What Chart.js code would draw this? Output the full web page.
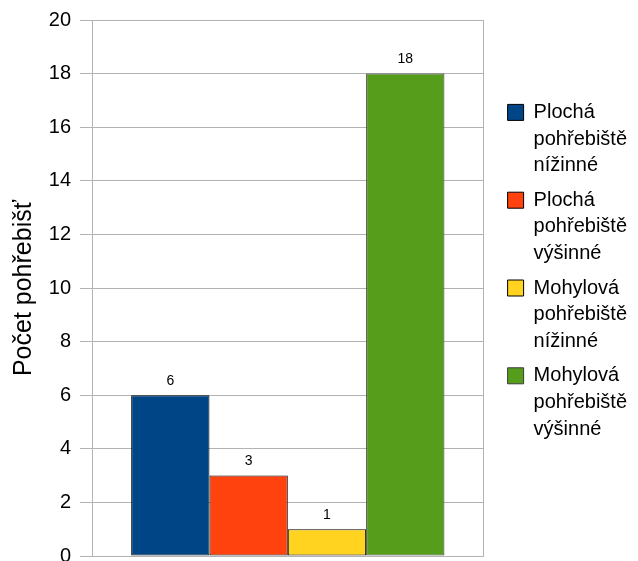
<!DOCTYPE html>
<html>
<head>
<meta charset="utf-8">
<script src="https://cdn.jsdelivr.net/npm/chart.js@4"></script>
<style>
  html, body { margin: 0; padding: 0; background: #fff; }
  #wrap { width: 638px; height: 561px; }
</style>
</head>
<body>
<div id="wrap"><canvas id="chart"></canvas></div>
<script>
const categories = [''];
const seriesLabels = [
    ['Plochá', 'pohřebiště', 'nížinné'],
    ['Plochá', 'pohřebiště', 'výšinné'],
    ['Mohylová', 'pohřebiště', 'nížinné'],
    ['Mohylová', 'pohřebiště', 'výšinné']
];
const seriesValues = [[6], [3], [1], [18]];
const seriesColors = ['#004586', '#ff420e', '#ffd320', '#579d1c'];
const yTicks = [0, 2, 4, 6, 8, 10, 12, 14, 16, 18, 20];

const fontFamily = '"Liberation Sans", Arial, sans-serif';
Chart.defaults.font.family = fontFamily;
Chart.defaults.color = '#000';

// šířka nejdelšího řádku legendy -> pravý okraj
const mctx = document.createElement('canvas').getContext('2d');
mctx.font = '20px ' + fontFamily;
const legendTextW = Math.max(...seriesLabels.flat().map(t => mctx.measureText(t).width));
const rightPad = Math.max(0, Math.round(94 - legendTextW));

// popisky hodnot nad sloupci
const valueLabels = {
    id: 'valueLabels',
    afterDatasetsDraw(chart) {
        const ctx = chart.ctx;
        ctx.save();
        ctx.font = '14px ' + fontFamily;
        ctx.fillStyle = '#000';
        ctx.textAlign = 'center';
        ctx.textBaseline = 'bottom';
        chart.data.datasets.forEach((ds, i) => {
            chart.getDatasetMeta(i).data.forEach((bar, j) => {
                ctx.fillText(String(ds.data[j]), bar.x, bar.y - 7);
            });
        });
        ctx.restore();
    }
};

const gridColor = '#b3b3b3';

new Chart(document.getElementById('chart'), {
    type: 'bar',
    data: {
        labels: categories,
        datasets: seriesValues.map((vals, i) => ({
            label: seriesLabels[i],
            data: vals,
            backgroundColor: seriesColors[i],
            borderColor: i === 3 ? '#3a3a3a' : '#000',
            borderWidth: 1,
            borderSkipped: false,
            categoryPercentage: 0.8,
            barPercentage: 1.0
        }))
    },
    options: {
        responsive: true,
        maintainAspectRatio: false,
        animation: false,
        layout: { padding: { top: 20, right: rightPad, bottom: 5, left: 4 } },
        plugins: {
            legend: {
                position: 'right',
                align: 'start',
                // prázdný titulek jen odsune položky dolů
                title: { display: true, text: '', font: { size: 12 }, padding: { top: 60, bottom: 0 } },
                labels: {
                    boxWidth: 16,
                    boxHeight: 16,
                    padding: 8,
                    color: '#000',
                    font: { size: 20, lineHeight: 1.33 }
                }
            },
            tooltip: { enabled: false }
        },
        scales: {
            x: {
                offset: true,
                ticks: { display: false },
                grid: { display: true, offset: true, color: gridColor, drawTicks: false },
                border: { color: gridColor }
            },
            y: {
                min: 0,
                max: 20,
                afterBuildTicks: (scale) => { scale.ticks = yTicks.map(v => ({ value: v })); },
                afterFit: (scale) => {
                    scale.width = 88;
                    scale.paddingTop = 0;
                    scale.paddingBottom = 0;
                },
                ticks: { font: { size: 20 }, padding: 9, color: '#000' },
                grid: { color: gridColor, tickLength: 12 },
                border: { color: gridColor },
                title: { display: true, text: 'Počet pohřebišť', font: { size: 25 }, color: '#000', padding: { top: 5, bottom: 0 } }
            },
            // mezera mezi grafem a legendou
            gap: {
                position: 'right',
                display: false,
                afterFit: (scale) => { scale.width = 16; }
            }
        }
    },
    plugins: [valueLabels]
});
</script>
</body>
</html>
